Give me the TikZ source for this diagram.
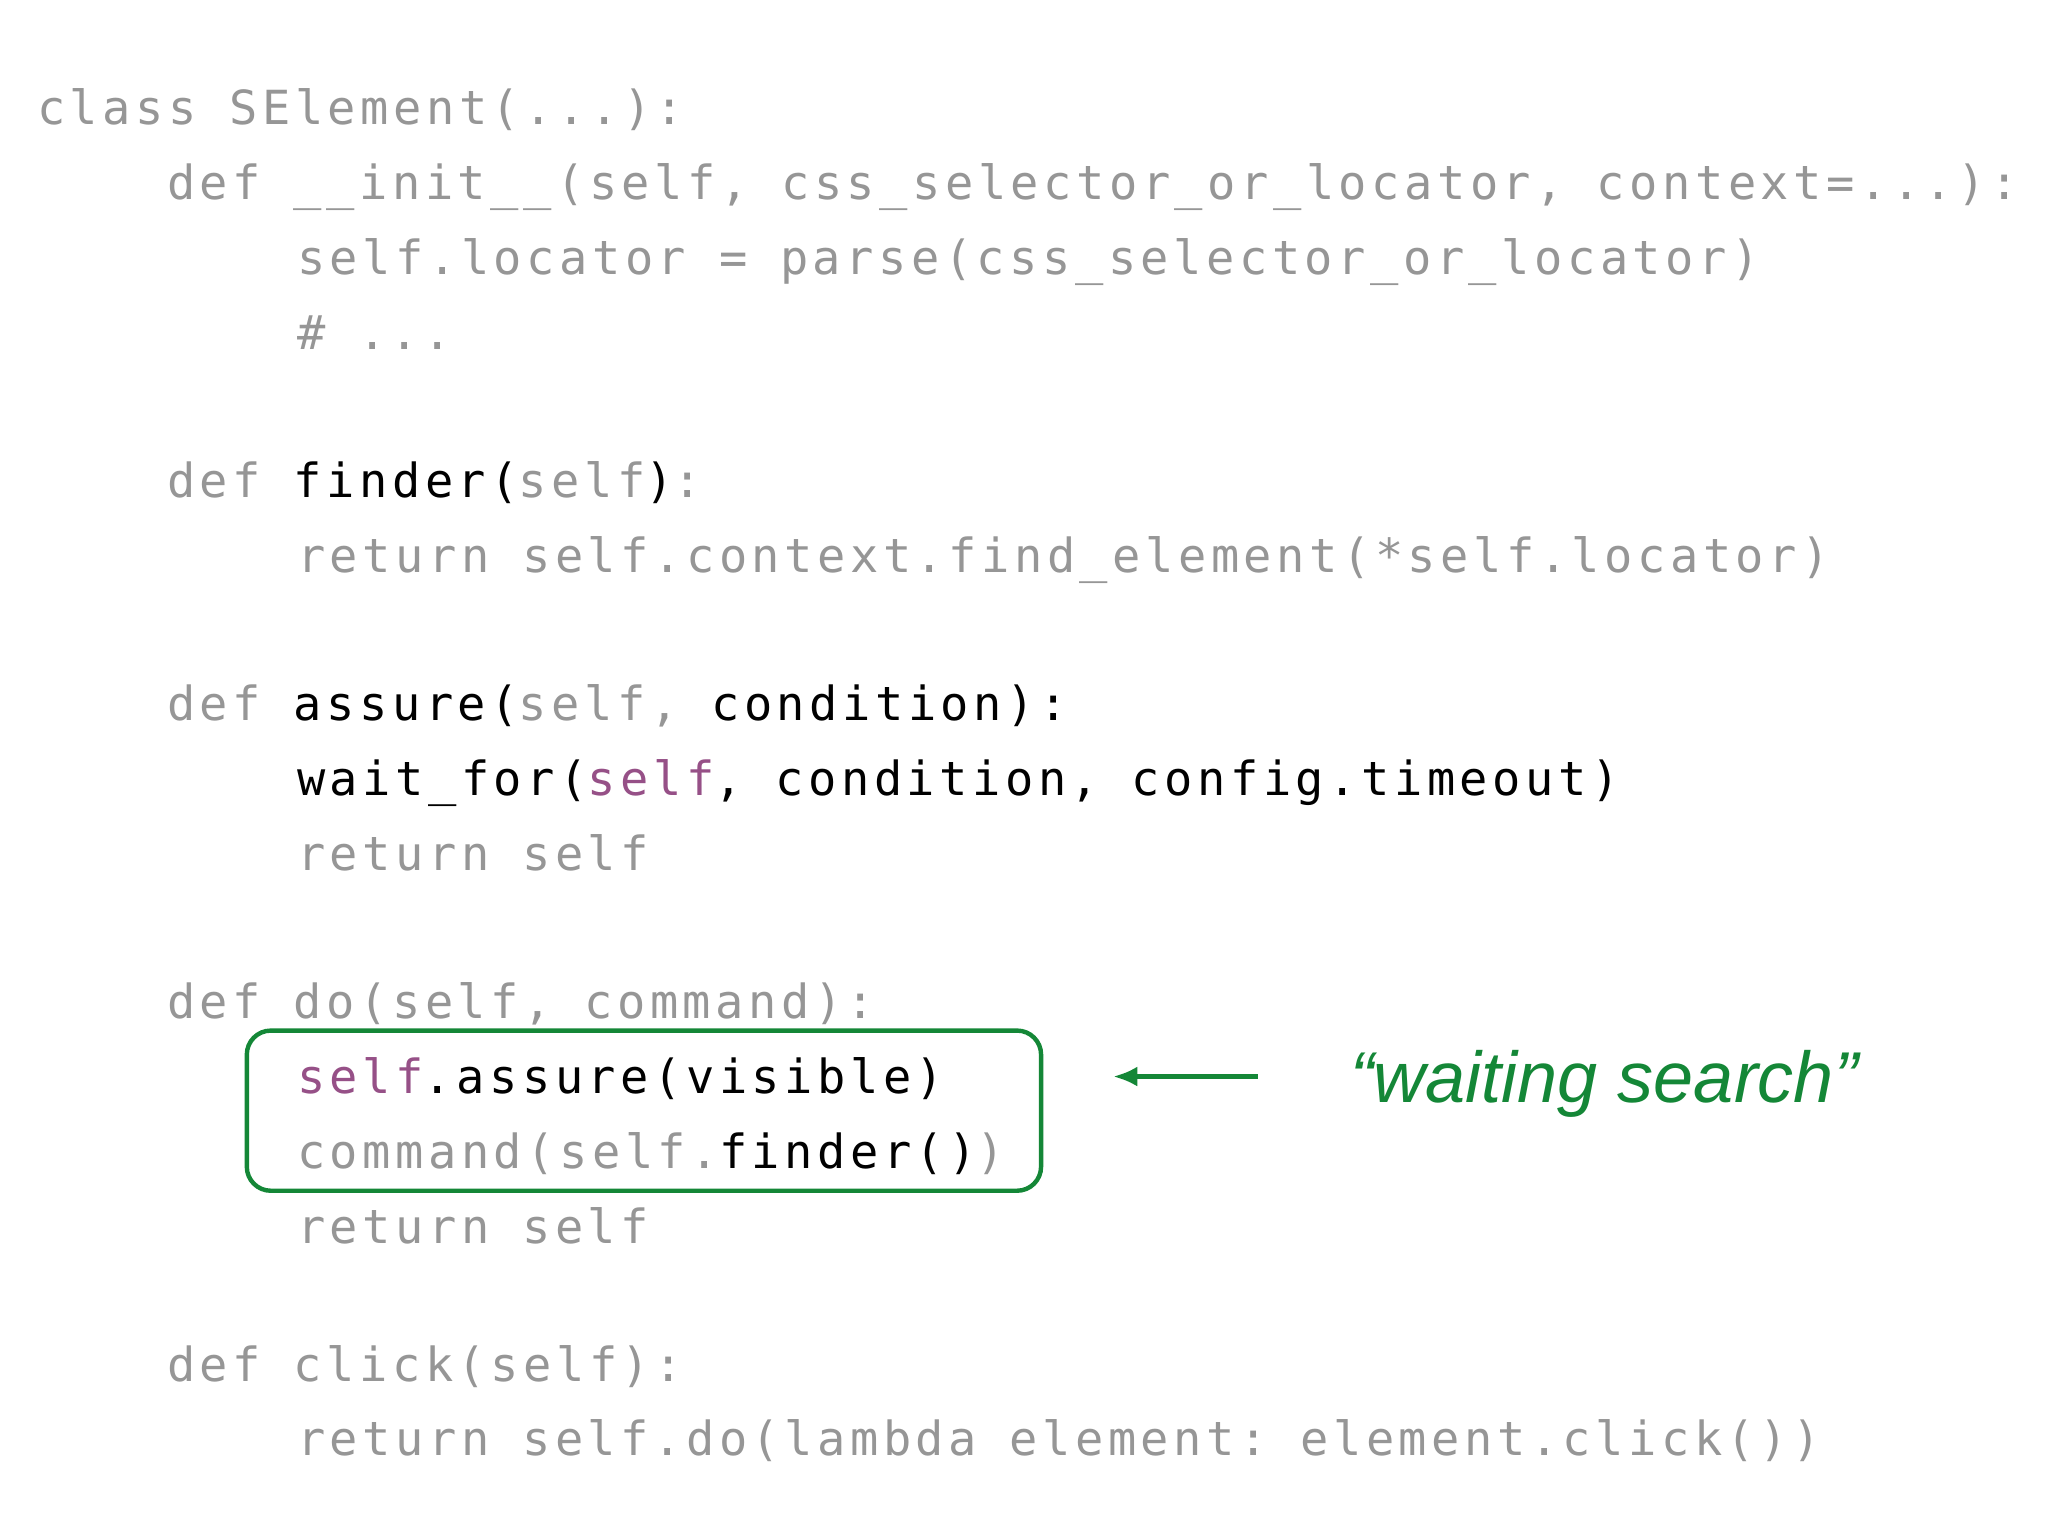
\documentclass[tikz,border=0pt]{standalone}
\usepackage{fontspec}
\setmonofont[LetterSpace=9.6]{DejaVu Sans Mono}
\newfontfamily\annfont{Liberation Sans}
\usetikzlibrary{arrows.meta}
\definecolor{cg}{RGB}{150,150,150}
\definecolor{cp}{RGB}{150,80,135}
\definecolor{cgreen}{RGB}{20,135,55}
\newcommand{\G}[1]{\textcolor{cg}{#1}}
\newcommand{\K}[1]{\textcolor{black}{#1}}
\newcommand{\Pp}[1]{\textcolor{cp}{#1}}
\tikzset{code/.style={anchor=base west,inner sep=0pt,font=\ttfamily\fontsize{23.5}{28}\selectfont,text=cg}}
\begin{document}
\begin{tikzpicture}[x=0.6565pt,y=-0.6565pt]
\useasboundingbox[fill=white] (0,0) rectangle (1560,1170);
\node[code] (l1) at (28,95) {class SElement(...):};
\node[code] (l2) at (127,152) {def \_\_init\_\_(self, css\_selector\_or\_locator, context=...):};
\node[code] (l3) at (226,209) {self.locator = parse(css\_selector\_or\_locator)};
\node[code] (l4) at (226,266) {\# ...};
\node[code] (l5) at (127,379) {def \K{finder(}self\K{)}:};
\node[code] (l6) at (226,436) {return self.context.find\_element(*self.locator)};
\node[code] (l7) at (127,549) {def \K{assure(}self, \K{condition):}};
\node[code] (l8) at (226,606) {\K{wait\_for(}\Pp{self}\K{, condition, config.timeout)}};
\node[code] (l9) at (226,663) {return self};
\node[code] (l10) at (127,776) {def do(self, command):};
\node[code] (l11) at (226,833) {\Pp{self}\K{.assure(visible)}};
\node[code] (l12) at (226,890) {command(self.\K{finder()})};
\node[code] (l13) at (226,947) {return self};
\node[code] (l14) at (127,1052) {def click(self):};
\node[code] (l15) at (226,1109) {return self.do(lambda element: element.click())};
\draw[cgreen,line width=2.2pt,rounded corners=12pt] (188,785) rectangle (793,907);
\coordinate (as) at (958,820);
\coordinate (ae) at (848,820);
\draw[cgreen,line width=2.2pt,-{Latex[length=12pt,width=10pt]}] (as) -- (ae);
\node[anchor=base west,inner sep=0pt,text=cgreen,font=\annfont\itshape\fontsize{36}{42}\selectfont] (ann) at (1028,840) {“waiting search”};
\end{tikzpicture}
\end{document}
